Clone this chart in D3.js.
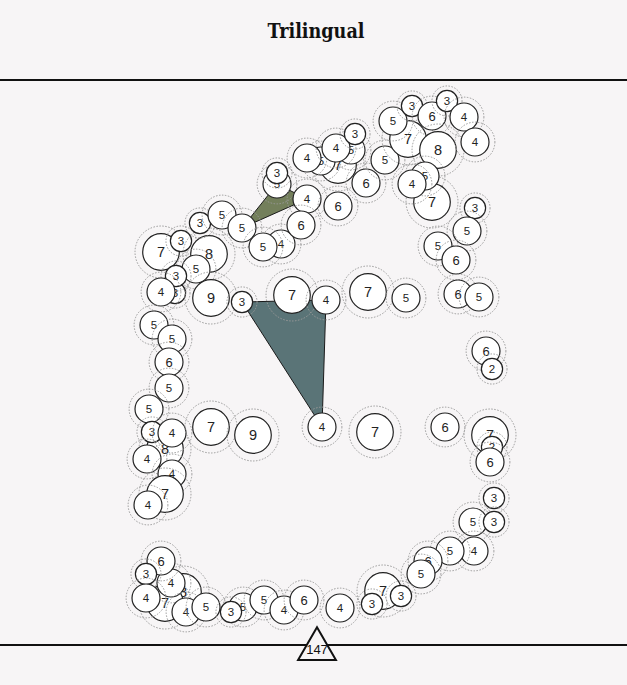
<!DOCTYPE html>
<html>
<head>
<meta charset="utf-8">
<script src="https://cdn.jsdelivr.net/npm/d3@7"></script>
<style>
  html, body { margin: 0; padding: 0; background: #f7f5f6; }
  svg { display: block; }
</style>
</head>
<body>
<svg id="chart"></svg>
<script>
// circle positions are in layout units (0..627 across, 0..685 down)
const nodeX = [175,161,181,209,196,176,161,211,200,222,242,281,263,277,277,307,301,338,338,351,321,307,336,355,366,385,
  408,393,412,432,438,447,464,475,432,425,412,475,467,438,456,458,479,
  242,292,326,368,406,486,492,
  154,172,169,169,149,165,152,172,147,172,165,148,
  211,253,322,375,445,490,492,490,494,473,494,474,450,428,421,383,401,372,340,
  183,165,171,161,146,146,186,206,243,231,264,284,304];
const nodeY = [293,252,241,254,269,276,292,298,223,215,228,244,247,184,173,199,225,206,165,150,161,158,148,134,183,160,
  139,121,106,116,150,101,117,142,202,176,184,208,231,246,260,294,297,
  302,295,300,292,298,351,369,
  325,339,362,388,409,449,432,433,459,474,494,505,
  427,435,427,432,427,435,447,462,498,522,522,551,551,561,574,591,596,604,608,
  592,603,583,561,574,598,612,607,607,612,600,610,600];
const nodeValue = [3,7,3,8,5,3,4,9,3,5,5,4,5,5,3,4,6,6,7,5,5,4,4,3,6,5,
  7,5,3,6,8,3,4,4,7,5,4,3,5,5,6,6,5,
  3,7,4,7,5,6,2,
  5,5,6,5,5,8,3,4,4,4,7,4,
  7,9,4,7,6,7,2,6,3,5,3,4,5,6,5,7,3,3,4,
  8,7,4,6,3,4,4,5,5,3,5,4,6];

// groups of three speakers joined into a shape (indices into the node arrays)
const groupMembers = [[10, 13, 15], [43, 45, 64]];
const groupColors = ["#737f5b", "#5a7477"];

const title = "Trilingual";
const totalLabel = "147";

const width = 627, height = 685;
const lineTop = 80, lineBottom = 645;

const svg = d3.select("#chart")
    .attr("width", width)
    .attr("height", height);

svg.append("rect")
    .attr("width", width)
    .attr("height", height)
    .attr("fill", "#f7f5f6");

let x = d3.scaleLinear().domain([0, 627]).range([0, width]),
    y = d3.scaleLinear().domain([0, 685]).range([0, height]);

// three size classes for the circles
let r = d3.scaleThreshold().domain([4, 7]).range([10.6, 14, 18.3]);
let fontSize = d3.scaleThreshold().domain([6, 7]).range([11.5, 13, 14.5]);

let nodes = nodeValue.map(function(v, i) {
    return { x: nodeX[i], y: nodeY[i], value: v };
});

svg.append("text")
    .attr("x", 316)
    .attr("y", 38)
    .attr("text-anchor", "middle")
    .attr("font-family", "'DejaVu Serif Condensed', 'DejaVu Serif', serif")
    .attr("font-weight", "bold")
    .attr("font-size", "20px")
    .attr("textLength", 97)
    .attr("lengthAdjust", "spacingAndGlyphs")
    .attr("fill", "#111")
    .text(title);

svg.append("line")
    .attr("x1", 0).attr("x2", width)
    .attr("y1", lineTop).attr("y2", lineTop)
    .attr("stroke", "#111")
    .attr("stroke-width", 2);

svg.append("line")
    .attr("x1", 0).attr("x2", width)
    .attr("y1", lineBottom).attr("y2", lineBottom)
    .attr("stroke", "#111")
    .attr("stroke-width", 2);

// filled shapes under the circles
svg.append("g")
    .selectAll("path")
    .data(groupMembers)
    .enter()
    .append("path")
    .attr("d", function(g) {
        return d3.line()(g.map(function(i) { return [x(nodes[i].x), y(nodes[i].y)]; })) + "Z";
    })
    .attr("fill", function(g, i) { return groupColors[i]; })
    .attr("stroke", "#1a1a1a")
    .attr("stroke-width", 1);

let bubbles = svg.append("g")
    .selectAll("g")
    .data(nodes)
    .enter()
    .append("g")
    .attr("transform", function(d) { return "translate(" + x(d.x) + "," + y(d.y) + ")"; });

bubbles.append("circle")
    .attr("r", function(d) { return r(d.value) * 1.42; })
    .attr("fill", "none")
    .attr("stroke", "#9a9a9a")
    .attr("stroke-width", 1)
    .attr("stroke-dasharray", "1.5,1.5");

bubbles.append("circle")
    .attr("r", function(d) { return r(d.value); })
    .attr("fill", "#ffffff")
    .attr("stroke", "#222")
    .attr("stroke-width", 1.2);

bubbles.append("text")
    .attr("text-anchor", "middle")
    .attr("dy", "0.36em")
    .attr("font-family", "'Liberation Sans', Arial, sans-serif")
    .attr("font-size", function(d) { return fontSize(d.value) + "px"; })
    .attr("fill", "#222")
    .text(function(d) { return d.value; });

// marker for the total on the bottom line
let tri = svg.append("g")
    .attr("transform", "translate(" + x(317) + "," + y(649) + ")");

tri.append("path")
    .attr("d", d3.symbol().type(d3.symbolTriangle).size(620))
    .attr("fill", "#f7f5f6")
    .attr("stroke", "#111")
    .attr("stroke-width", 2);

tri.append("text")
    .attr("text-anchor", "middle")
    .attr("dy", "0.36em")
    .attr("font-family", "'Liberation Sans', Arial, sans-serif")
    .attr("font-size", "13px")
    .attr("fill", "#111")
    .text(totalLabel);
</script>
</body>
</html>
